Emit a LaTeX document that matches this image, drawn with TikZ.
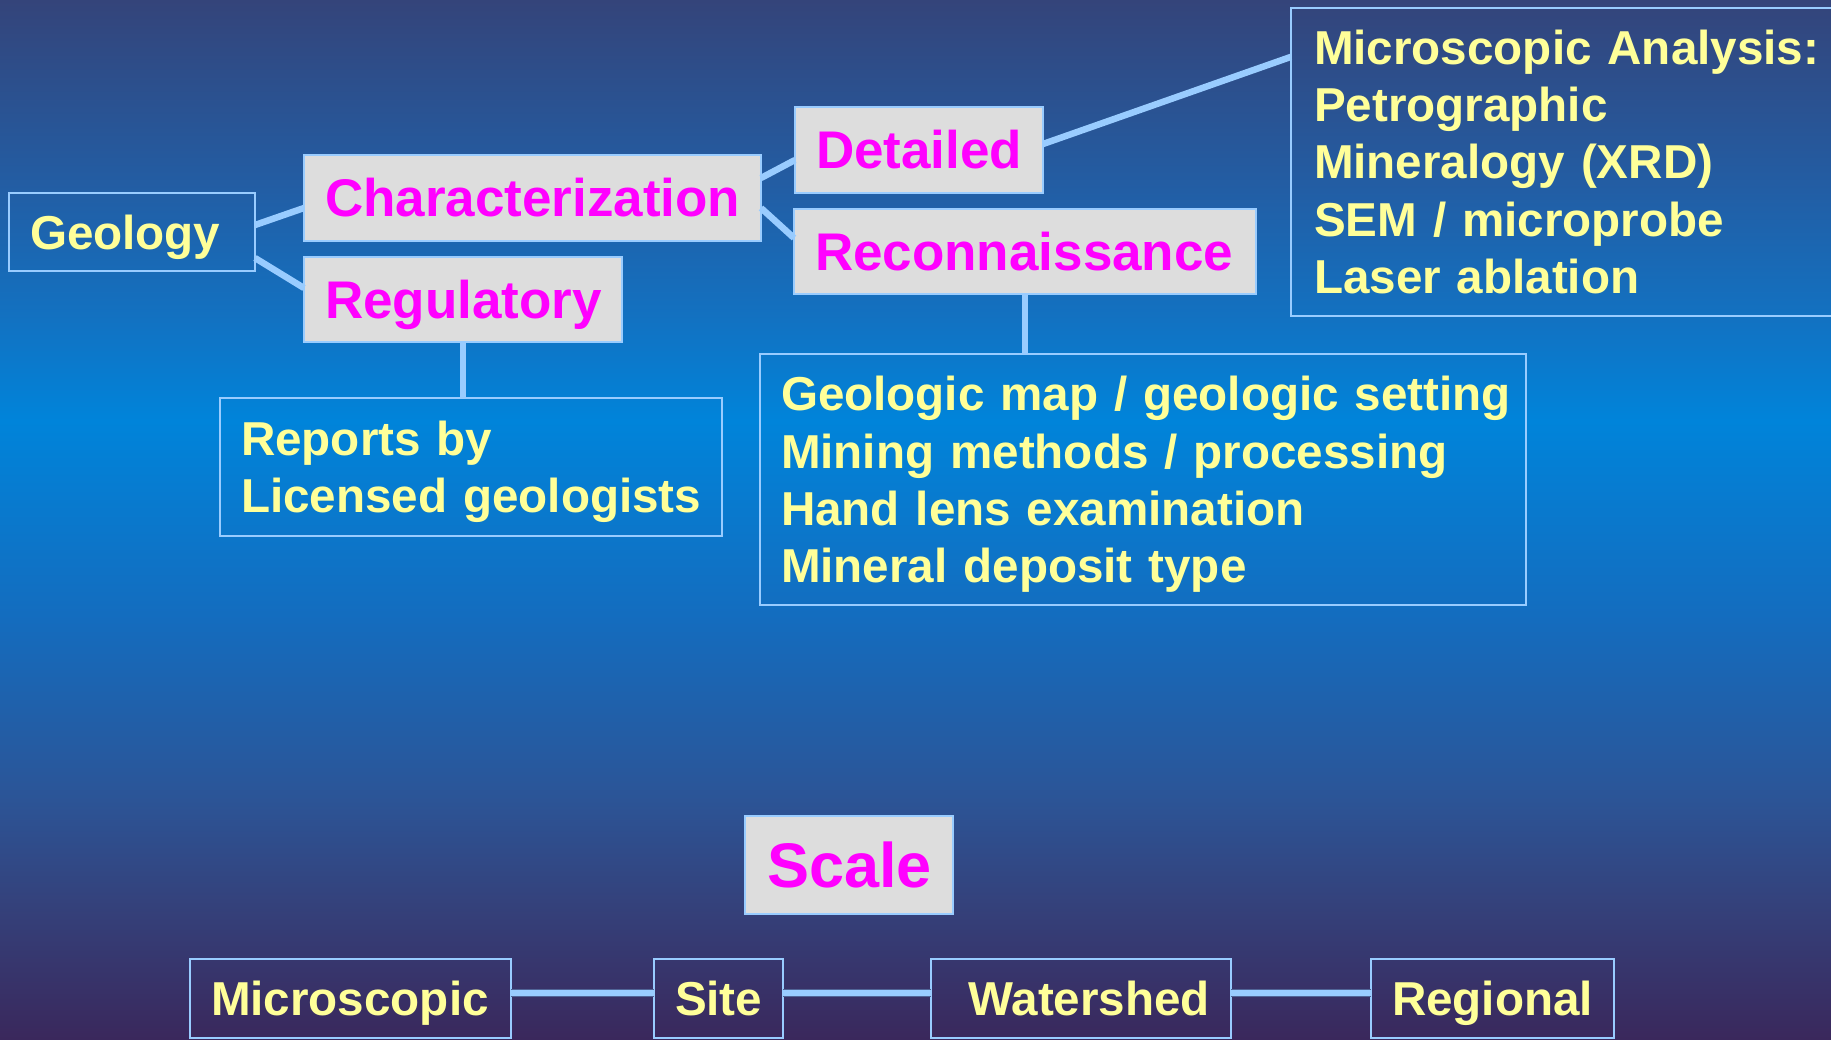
\documentclass[tikz,border=0pt]{standalone}
\usepackage{fontspec}
\setmainfont{Liberation Sans}[WordSpace=0.85]
\definecolor{bg0}{RGB}{52,68,122}
\definecolor{bg1}{RGB}{34,94,165}
\definecolor{bg2}{RGB}{18,114,194}
\definecolor{bg3}{RGB}{0,132,218}
\definecolor{bg4}{RGB}{20,108,190}
\definecolor{bg5}{RGB}{44,84,150}
\definecolor{bg6}{RGB}{52,66,124}
\definecolor{bg7}{RGB}{58,40,92}
\definecolor{conn}{HTML}{99CCFF}
\definecolor{linkedge}{RGB}{80,100,150}
\definecolor{boxgray}{HTML}{DDDDDD}
\definecolor{mag}{HTML}{FF00FF}
\definecolor{yel}{HTML}{FFFF99}
\newcommand\yelfont{\fontsize{47.6}{57.4}\selectfont\bfseries}
\newcommand\magfont{\fontsize{53}{63}\selectfont\bfseries}
\newcommand\bigmagfont{\fontsize{63}{75}\selectfont\bfseries}
\newcommand\oneline[1]{\mbox{#1}}
\tikzset{
  basebox/.style={draw=conn, line width=2pt, anchor=north west, inner xsep=21pt,
    inner ysep=0pt, outer sep=0pt, align=left},
  ybox/.style={basebox, text=yel, font=\yelfont, text height=34.1pt, text depth=0pt},
  gbox/.style={basebox, fill=boxgray, text=mag, font=\magfont, text height=37.9pt, text depth=0pt},
  link/.style={draw=conn, line width=6.5pt},
  blink/.style={draw=linkedge, line width=1pt, double=conn, double distance=6pt},
}
\begin{document}
\begin{tikzpicture}[x=1pt,y=-1pt]
\useasboundingbox (0,0) rectangle (1831,1039);
\clip (0,0) rectangle (1831,1039);
% background gradient
\shade[top color=bg0, bottom color=bg1] (0,0) rectangle (1831,191);
\shade[top color=bg1, bottom color=bg2] (0,190) rectangle (1831,321);
\shade[top color=bg2, bottom color=bg3] (0,320) rectangle (1831,421);
\shade[top color=bg3, bottom color=bg4] (0,420) rectangle (1831,621);
\shade[top color=bg4, bottom color=bg5] (0,620) rectangle (1831,801);
\shade[top color=bg5, bottom color=bg6] (0,800) rectangle (1831,901);
\shade[top color=bg6, bottom color=bg7] (0,900) rectangle (1831,1039);

% top tree
\node[ybox, text width=204pt, minimum height=78pt] (geo) at (9,193) {Geology};
\node[gbox, text width=415pt, minimum height=86pt] (char) at (304,155) {\oneline{Characterization}};
\node[gbox, text width=276pt, minimum height=85pt] (reg) at (304,257) {Regulatory};
\node[gbox, text width=206pt, minimum height=86pt] (det) at (795,107) {Detailed};
\node[gbox, text width=420pt, minimum height=85pt] (recon) at (794,209) {\oneline{Reconnaissance}};
\node[ybox, inner xsep=23pt, inner ysep=22pt, text width=554pt, text depth=229.6pt] (mic) at (1291,8)
  {\oneline{Microscopic Analysis:}\\\oneline{Petrographic}\\\oneline{Mineralogy (XRD)}\\\oneline{SEM / microprobe}\\\oneline{Laser ablation}};
\node[ybox, inner ysep=23pt, text width=460pt, text depth=57.4pt] (rep) at (220,398)
  {\oneline{Reports by}\\\oneline{Licensed geologists}};
\node[ybox, inner ysep=22.5pt, text width=724pt, text depth=172.2pt] (geomap) at (760,354)
  {\oneline{Geologic map / geologic setting}\\\oneline{Mining methods / processing}\\\oneline{Hand lens examination}\\\oneline{Mineral deposit type}};

% scale row
\node[gbox, font=\bigmagfont, text height=45.1pt, inner xsep=22pt, text width=164pt, minimum height=98pt] (scale) at (745,816) {\oneline{Scale}};
\node[ybox, text width=279pt, minimum height=79pt] (bmic) at (190,959) {\oneline{Microscopic}};
\node[ybox, text width=87pt, minimum height=79pt] (site) at (654,959) {\oneline{Site}};
\node[ybox, text width=258pt, minimum height=79pt, align=right] (water) at (931,959) {\oneline{Watershed}};
\node[ybox, text width=201pt, minimum height=79pt] (regional) at (1371,959) {\oneline{Regional}};

% connectors
\draw[link] ([yshift=7pt]geo.east) -- ([yshift=-10pt]char.west);
\draw[link] ([yshift=-26pt]geo.east) -- ([yshift=11.5pt]reg.west);
\draw[link] ([yshift=20pt]char.east) -- ([yshift=-10pt]det.west);
\draw[link] ([yshift=-10pt]char.east) -- ([yshift=13.5pt]recon.west);
\draw[link] ([yshift=6pt]det.east) -- ([yshift=105pt]mic.west);
\draw[link] (reg.south) -- (reg.south |- rep.north);
\draw[link] (recon.south) -- (recon.south |- geomap.north);
\draw[blink] ([yshift=6pt]bmic.east) -- ([yshift=6pt]bmic.east -| site.west);
\draw[blink] ([yshift=6pt]site.east) -- ([yshift=6pt]site.east -| water.west);
\draw[blink] ([yshift=6pt]water.east) -- ([yshift=6pt]water.east -| regional.west);
\end{tikzpicture}
\end{document}
